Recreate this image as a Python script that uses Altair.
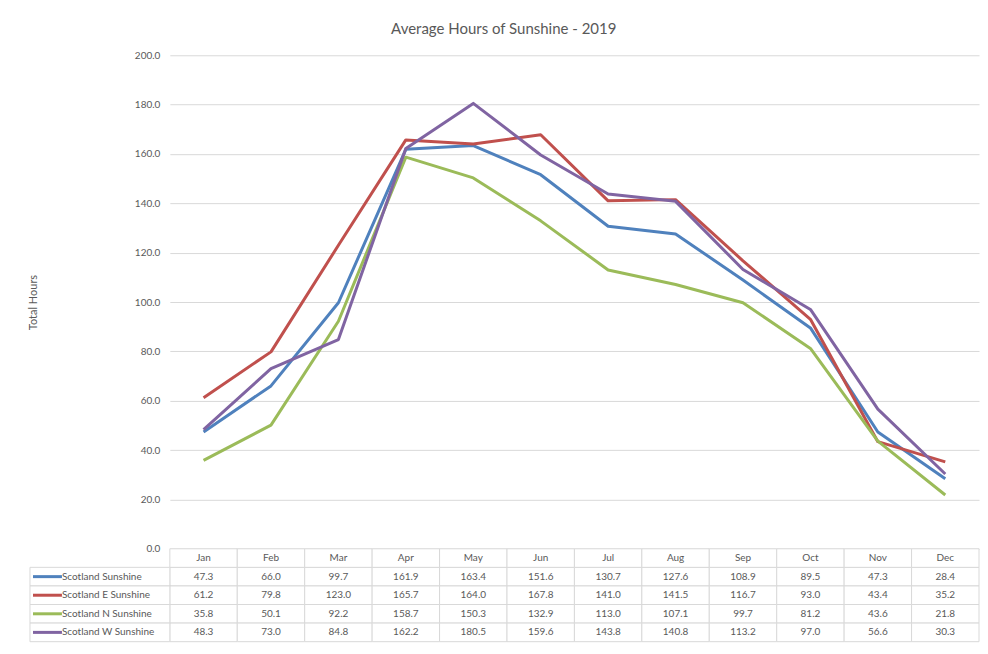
import altair as alt
import pandas as pd

months = ["Jan", "Feb", "Mar", "Apr", "May", "Jun", "Jul", "Aug", "Sep", "Oct", "Nov", "Dec"]
series = ["Scotland Sunshine", "Scotland E Sunshine", "Scotland N Sunshine", "Scotland W Sunshine"]
scotland = [47.3, 66.0, 99.7, 161.9, 163.4, 151.6, 130.7, 127.6, 108.9, 89.5, 47.3, 28.4]
scotland_e = [61.2, 79.8, 123.0, 165.7, 164.0, 167.8, 141.0, 141.5, 116.7, 93.0, 43.4, 35.2]
scotland_n = [35.8, 50.1, 92.2, 158.7, 150.3, 132.9, 113.0, 107.1, 99.7, 81.2, 43.6, 21.8]
scotland_w = [48.3, 73.0, 84.8, 162.2, 180.5, 159.6, 143.8, 140.8, 113.2, 97.0, 56.6, 30.3]
colors = ["#4F81BD", "#C0504D", "#9BBB59", "#8064A2"]
y_ticks = [0, 20, 40, 60, 80, 100, 120, 140, 160, 180, 200]

FONT = "Lato"
GREY = "#595959"
GRID = "#d9d9d9"
W, H = 810, 494
TABLE_H = 93

values = [scotland, scotland_e, scotland_n, scotland_w]
records = []
for s, vals in zip(series, values):
    for m, v in zip(months, vals):
        records.append({"month": m, "series": s, "value": v, "row": s})
df = pd.DataFrame(records)
hdr = pd.DataFrame({"month": months, "row": ["header"] * len(months)})
names = pd.DataFrame({"series": series, "row": series})
rows = ["header"] + series

color = alt.Color("series:N", scale=alt.Scale(domain=series, range=colors), legend=None)

lines = alt.Chart(df).mark_line(strokeWidth=3, strokeJoin="round").encode(
    x=alt.X("month:O", sort=months,
            scale=alt.Scale(type="point", domain=months, padding=0.5), axis=None),
    y=alt.Y("value:Q", scale=alt.Scale(domain=[0, 200], nice=False),
            axis=alt.Axis(values=y_ticks, format=".1f", title="Total Hours",
                          grid=True, gridColor=GRID, domain=False, ticks=False,
                          labelColor=GREY, labelFontSize=10, labelFont=FONT, labelPadding=10,
                          titleX=-136, titleY=H / 2, titleAngle=-90, titleAlign="center",
                          titleBaseline="middle",
                          titleFont=FONT, titleFontSize=11, titleFontWeight="normal",
                          titleColor=GREY)),
    color=color,
).properties(width=W, height=H)

tx = alt.X("tm:N", sort=months, scale=alt.Scale(type="band", domain=months,
                                                  paddingInner=0, paddingOuter=0), axis=None)
ty = alt.Y("row:N", sort=rows, scale=alt.Scale(type="band", domain=rows,
                                                paddingInner=0, paddingOuter=0), axis=None)

dft = df.rename(columns={"month": "tm"})
hdrt = hdr.rename(columns={"month": "tm"})

cells = alt.Chart(dft).mark_rect(fill="white", stroke=GRID, strokeWidth=1).encode(x=tx, y=ty)
hcells = alt.Chart(hdrt).mark_rect(fill="white", stroke=GRID, strokeWidth=1).encode(x=tx, y=ty)
ncells = alt.Chart(names).mark_rect(fill="white", stroke=GRID, strokeWidth=1).encode(
    x=alt.value(-140), x2=alt.value(0), y=ty)
vtext = alt.Chart(dft).mark_text(font=FONT, fontSize=10, color=GREY).encode(
    x=tx, y=ty, text=alt.Text("value:Q", format=".1f"))
htext = alt.Chart(hdrt).mark_text(font=FONT, fontSize=10, color=GREY).encode(
    x=tx, y=ty, text="tm:N")
ntext = alt.Chart(names).mark_text(font=FONT, fontSize=10, color=GREY, align="left").encode(
    x=alt.value(-108), y=ty, text="series:N")
swatch = alt.Chart(names).mark_rule(strokeWidth=3).encode(
    x=alt.value(-137), x2=alt.value(-108), y=ty, color=color)

table = alt.layer(cells, hcells, ncells, vtext, htext, ntext, swatch).properties(
    width=W, height=TABLE_H)

chart = alt.vconcat(lines, table, spacing=0, bounds="flush").resolve_scale(
    x="independent", y="independent", color="shared"
).properties(
    title=alt.TitleParams("Average Hours of Sunshine - 2019", font=FONT, fontSize=15,
                          fontWeight="normal", color=GREY, anchor="middle", offset=13),
    padding={"left": 20, "top": 14, "right": 0, "bottom": 0},
    background="white",
).configure_view(stroke=None)

chart.save("out.html", embed_options={"renderer": "svg", "actions": False})
